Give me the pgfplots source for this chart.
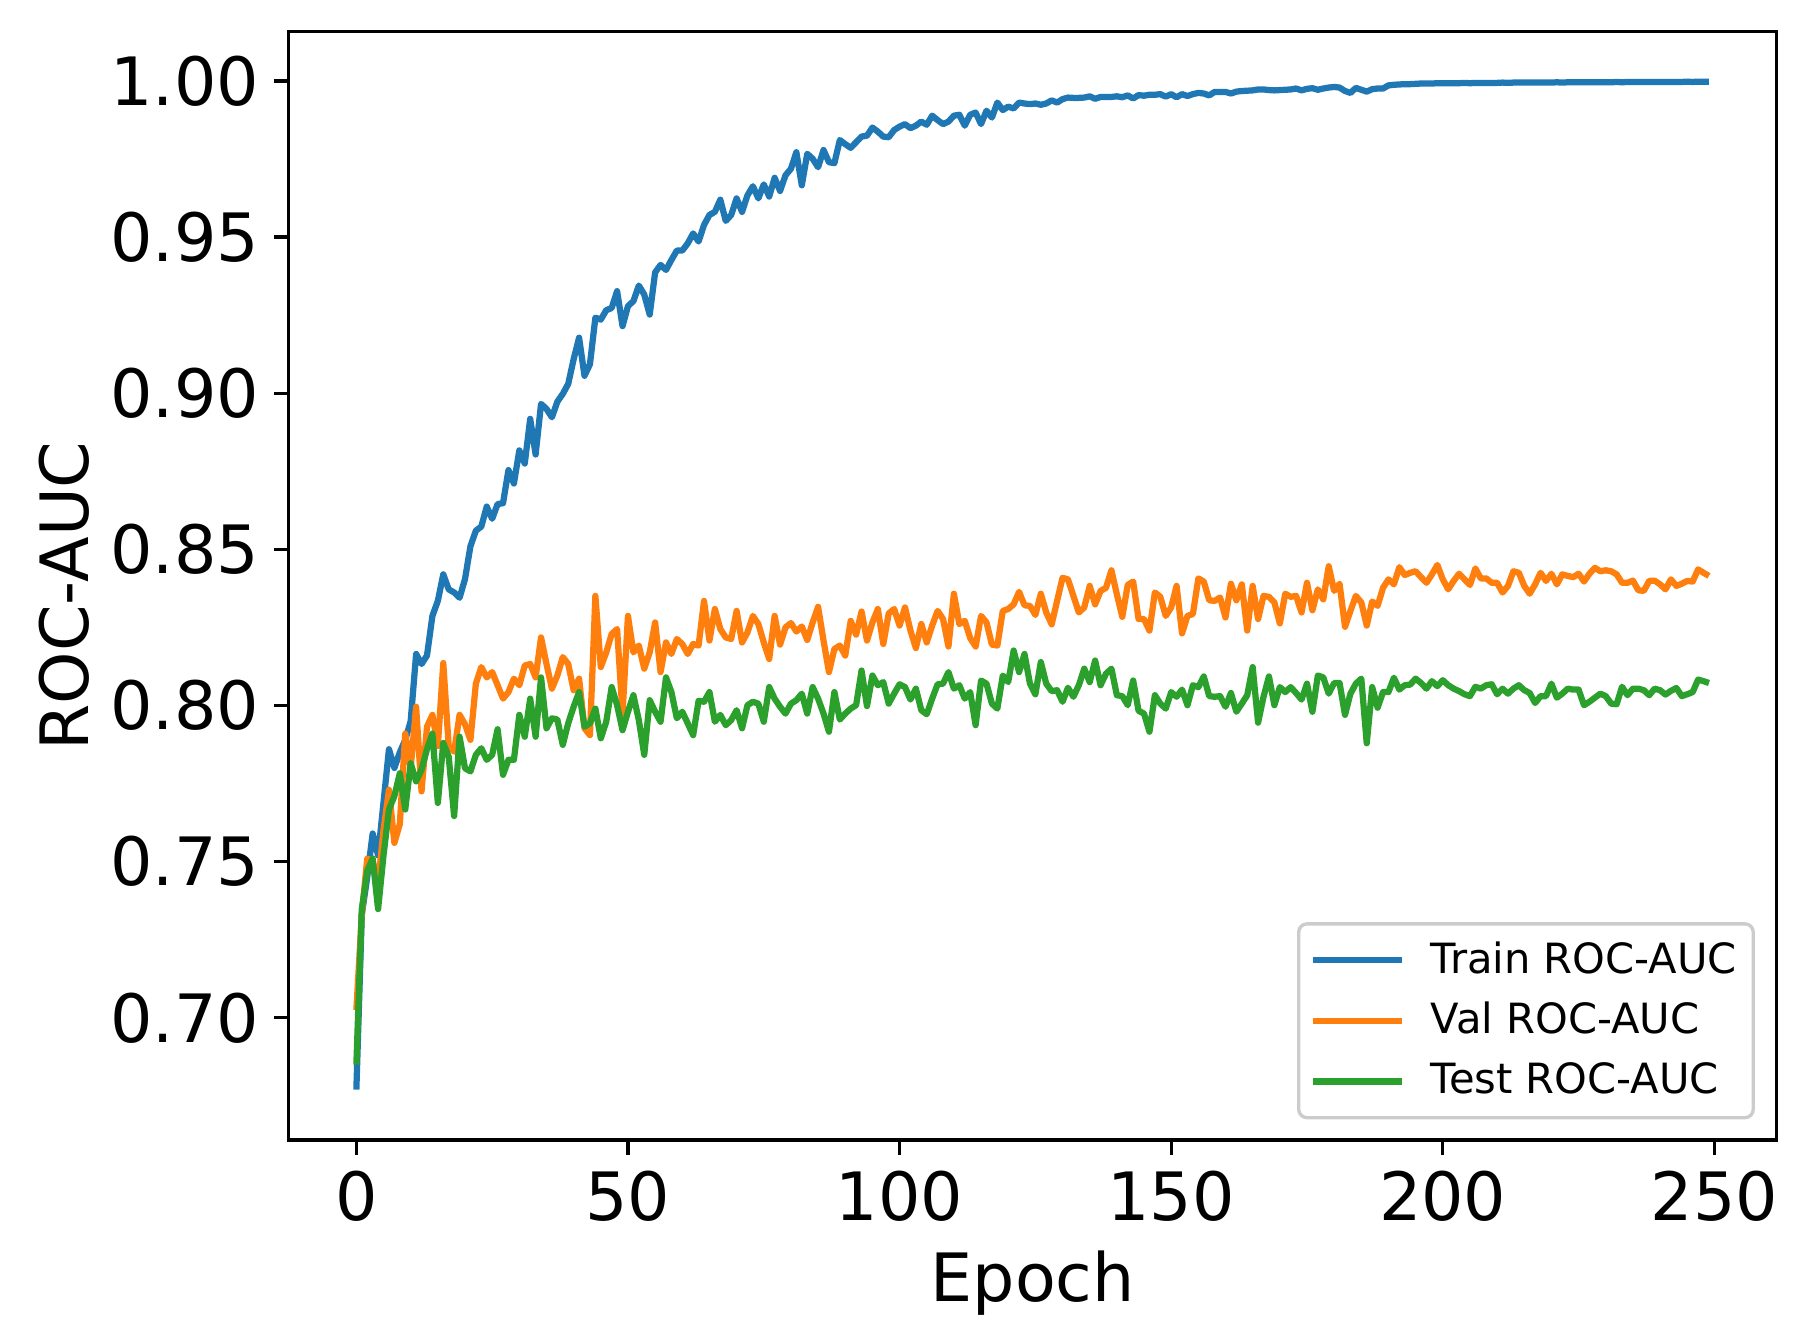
\documentclass[border=0pt]{standalone}
\usepackage{fontspec}
\setmainfont{DejaVu Sans}
\usepackage{pgfplots}
\usepackage{pgfplotstable}
\pgfplotsset{compat=1.18}
\definecolor{tabblue}{HTML}{1F77B4}
\definecolor{taborange}{HTML}{FF7F0E}
\definecolor{tabgreen}{HTML}{2CA02C}
\pgfplotstableread{
epoch train val test
0 0.677 0.7025 0.685
1 0.733 0.733 0.7348
2 0.745 0.751 0.747
3 0.759 0.750 0.751
4 0.752 0.743 0.7348
5 0.769 0.760 0.752
6 0.786 0.773 0.7667
7 0.780 0.756 0.771
8 0.785 0.762 0.7783
9 0.789 0.791 0.7667
10 0.795 0.780 0.7815
11 0.8165 0.7996 0.7757
12 0.8133 0.7725 0.7794
13 0.8160 0.7932 0.786
14 0.8287 0.797 0.791
15 0.8335 0.787 0.7688
16 0.8420 0.8136 0.788
17 0.8372 0.787 0.7836
18 0.8362 0.7852 0.7646
19 0.8345 0.797 0.790
20 0.8405 0.794 0.7799
21 0.8510 0.789 0.7789
22 0.8560 0.8070 0.7842
23 0.8573 0.8123 0.7863
24 0.8637 0.809 0.7826
25 0.8598 0.8107 0.7842
26 0.8645 0.8065 0.7924
27 0.8648 0.8022 0.7778
28 0.8754 0.8043 0.7826
29 0.8711 0.8086 0.7826
30 0.8817 0.8065 0.797
31 0.8775 0.8128 0.790
32 0.8918 0.8133 0.8022
33 0.8804 0.809 0.790
34 0.8966 0.8218 0.809
35 0.8950 0.8133 0.7927
36 0.8923 0.8054 0.7959
37 0.8973 0.8096 0.7955
38 0.8998 0.8155 0.7874
39 0.9030 0.8133 0.7943
40 0.9109 0.8049 0.7996
41 0.9178 0.8086 0.8043
42 0.9056 0.7927 0.7932
43 0.9093 0.7905 0.7943
44 0.9242 0.8351 0.799
45 0.9236 0.8123 0.7895
46 0.9266 0.8170 0.7948
47 0.9273 0.8229 0.8059
48 0.9327 0.8245 0.8001
49 0.9215 0.7974 0.7921
50 0.9279 0.8287 0.798
51 0.9295 0.8170 0.8033
52 0.9345 0.8192 0.7953
53 0.9316 0.8118 0.7842
54 0.9252 0.8170 0.8017
55 0.9387 0.8266 0.798
56 0.9411 0.8107 0.7948
57 0.9395 0.8202 0.809
58 0.9427 0.8165 0.8043
59 0.9457 0.8213 0.7959
60 0.9457 0.8197 0.798
61 0.9480 0.8165 0.7943
62 0.9512 0.8197 0.7905
63 0.9486 0.8192 0.8015
64 0.9539 0.8335 0.8012
65 0.9571 0.8208 0.8043
66 0.9581 0.8309 0.7948
67 0.9620 0.8245 0.7970
68 0.9552 0.8218 0.7937
69 0.9571 0.8213 0.7953
70 0.9624 0.8303 0.7985
71 0.9581 0.8202 0.7927
72 0.9634 0.8234 0.8001
73 0.9663 0.8287 0.8012
74 0.9624 0.8261 0.8006
75 0.9669 0.8202 0.7948
76 0.9630 0.8149 0.8059
77 0.9690 0.8287 0.8022
78 0.9648 0.8195 0.7996
79 0.9698 0.8250 0.7974
80 0.9719 0.8264 0.8006
81 0.9772 0.8237 0.8017
82 0.9666 0.8253 0.8038
83 0.9767 0.8210 0.7974
84 0.9751 0.8266 0.8059
85 0.9724 0.8316 0.8022
86 0.9779 0.8208 0.7974
87 0.9740 0.8107 0.7916
88 0.9737 0.8181 0.8043
89 0.9811 0.8192 0.7955
90 0.9798 0.8160 0.7974
91 0.9786 0.8271 0.7990
92 0.9804 0.8227 0.8001
93 0.9822 0.8301 0.8112
94 0.9825 0.8208 0.7998
95 0.9851 0.8266 0.8096
96 0.9838 0.8309 0.8065
97 0.9822 0.8197 0.8075
98 0.9820 0.8295 0.8006
99 0.9843 0.8309 0.8038
100 0.9854 0.8256 0.8068
101 0.9862 0.8314 0.8059
102 0.9849 0.8240 0.8019
103 0.9857 0.8184 0.8054
104 0.9870 0.8261 0.7985
105 0.9860 0.8202 0.7972
106 0.9889 0.8256 0.8022
107 0.9875 0.8303 0.8068
108 0.9862 0.8277 0.8070
109 0.9870 0.8189 0.8107
110 0.9889 0.8358 0.8054
111 0.9892 0.8261 0.8065
112 0.9857 0.8271 0.8022
113 0.9892 0.8216 0.8043
114 0.9899 0.8189 0.7937
115 0.9862 0.8287 0.8080
116 0.9905 0.8266 0.8070
117 0.9883 0.8195 0.8006
118 0.9931 0.8192 0.7990
119 0.9907 0.8303 0.8096
120 0.9918 0.8309 0.8075
121 0.9912 0.8324 0.8176
122 0.9931 0.8364 0.8107
123 0.9928 0.8321 0.8165
124 0.9926 0.8319 0.8070
125 0.9928 0.8290 0.8036
126 0.9924 0.8358 0.8139
127 0.9928 0.8298 0.8070
128 0.9938 0.8260 0.8046
129 0.9931 0.8335 0.8049
130 0.9942 0.8409 0.8012
131 0.9947 0.8404 0.8057
132 0.9946 0.8351 0.8028
133 0.9946 0.8298 0.8065
134 0.9947 0.8314 0.8118
135 0.9951 0.8383 0.8075
136 0.9943 0.8324 0.8144
137 0.9949 0.8367 0.8065
138 0.9949 0.8377 0.8102
139 0.9949 0.8433 0.8118
140 0.9951 0.8356 0.8033
141 0.9948 0.8284 0.8030
142 0.9954 0.8386 0.8001
143 0.9944 0.8397 0.8080
144 0.9955 0.8277 0.7983
145 0.9953 0.8277 0.7974
146 0.9956 0.8240 0.7916
147 0.9956 0.8362 0.8033
148 0.9958 0.8348 0.8006
149 0.9950 0.8287 0.7990
150 0.9958 0.8314 0.8043
151 0.9948 0.8383 0.8028
152 0.9958 0.8231 0.8051
153 0.9952 0.8287 0.8001
154 0.9958 0.8293 0.8065
155 0.9962 0.8407 0.8059
156 0.9960 0.8397 0.8093
157 0.9954 0.8337 0.8030
158 0.9965 0.8335 0.8028
159 0.9965 0.8346 0.8030
160 0.9965 0.8282 0.7996
161 0.9960 0.8390 0.8040
162 0.9966 0.8337 0.7980
163 0.9968 0.8388 0.8006
164 0.9969 0.8240 0.8033
165 0.9970 0.8383 0.8123
166 0.9973 0.8277 0.7945
167 0.9973 0.8351 0.8028
168 0.9971 0.8348 0.8093
169 0.9970 0.8330 0.8001
170 0.9971 0.8263 0.8059
171 0.9972 0.8358 0.8043
172 0.9973 0.8348 0.8059
173 0.9976 0.8351 0.8040
174 0.9970 0.8298 0.8019
175 0.9975 0.8393 0.8070
176 0.9977 0.8305 0.7980
177 0.9972 0.8372 0.8096
178 0.9976 0.8340 0.8090
179 0.9979 0.8446 0.8038
180 0.9981 0.8367 0.8072
181 0.9979 0.8390 0.8072
182 0.9968 0.8252 0.7970
183 0.9962 0.8303 0.8038
184 0.9978 0.8351 0.8070
185 0.9972 0.8330 0.8086
186 0.9966 0.8256 0.7879
187 0.9974 0.8333 0.8059
188 0.9976 0.8319 0.7993
189 0.9976 0.8377 0.8043
190 0.9986 0.8404 0.8043
191 0.9988 0.8388 0.8089
192 0.9989 0.8443 0.8051
193 0.9990 0.8418 0.8065
194 0.9990 0.8425 0.8067
195 0.9991 0.8430 0.8086
196 0.9992 0.8411 0.8072
197 0.9992 0.8393 0.8054
198 0.9992 0.8420 0.8078
199 0.9993 0.8450 0.8062
200 0.9993 0.8404 0.8081
201 0.9993 0.8372 0.8065
202 0.9993 0.8399 0.8054
203 0.9993 0.8422 0.8046
204 0.9994 0.8404 0.8036
205 0.9993 0.8386 0.8030
206 0.9994 0.8439 0.8060
207 0.9994 0.8407 0.8054
208 0.9994 0.8407 0.8065
209 0.9994 0.8393 0.8068
210 0.9994 0.8393 0.8036
211 0.9995 0.8362 0.8054
212 0.9994 0.8383 0.8038
213 0.9995 0.8430 0.8054
214 0.9995 0.8425 0.8065
215 0.9995 0.8383 0.8049
216 0.9995 0.8358 0.8040
217 0.9995 0.8388 0.8008
218 0.9995 0.8425 0.8030
219 0.9995 0.8399 0.8030
220 0.9995 0.8422 0.8070
221 0.9996 0.8388 0.8025
222 0.9995 0.8420 0.8038
223 0.9996 0.8415 0.8054
224 0.9996 0.8411 0.8051
225 0.9996 0.8422 0.8051
226 0.9996 0.8397 0.8001
227 0.9996 0.8422 0.8012
228 0.9996 0.8441 0.8025
229 0.9996 0.8430 0.8038
230 0.9996 0.8433 0.8030
231 0.9996 0.8430 0.8006
232 0.9997 0.8420 0.8004
233 0.9996 0.8393 0.8060
234 0.9997 0.8393 0.8033
235 0.9997 0.8400 0.8054
236 0.9997 0.8369 0.8054
237 0.9997 0.8367 0.8049
238 0.9997 0.8399 0.8033
239 0.9997 0.8400 0.8054
240 0.9997 0.8388 0.8049
241 0.9997 0.8372 0.8035
242 0.9997 0.8404 0.8047
243 0.9997 0.8383 0.8056
244 0.9997 0.8390 0.8030
245 0.9998 0.8399 0.8036
246 0.9997 0.8397 0.8043
247 0.9998 0.8436 0.8083
248 0.9998 0.8425 0.8078
249 0.9998 0.8415 0.8072
}\datatable

\begin{document}
\begin{tikzpicture}
\begin{axis}[
  scale only axis,
  width=357.1pt, height=266.1pt,
  xmin=-12.45, xmax=261.45,
  ymin=0.66086, ymax=1.01594,
  axis line style={line width=0.8pt},
  tick pos=left, tick align=outside,
  major tick length=3.5pt,
  every tick/.style={black, line width=0.8pt},
  xtick={0,50,100,150,200,250},
  ytick={0.70,0.75,0.80,0.85,0.90,0.95,1.00},
  scaled y ticks=false,
  /pgf/number format/assume math mode=true,
  y tick label style={/pgf/number format/fixed, /pgf/number format/fixed zerofill, /pgf/number format/precision=2},
  tick label style={font=\fontsize{16}{19.2}\selectfont},
  xticklabel style={inner sep=0pt, anchor=north, yshift=-3.7pt},
  yticklabel style={inner sep=0pt, anchor=east, xshift=-3.45pt},
  xlabel={Epoch}, ylabel={ROC-AUC},
  label style={font=\fontsize{16}{19.2}\selectfont},
  xlabel style={at={(axis description cs:0.5,-0.0992)}, anchor=north, inner sep=0pt},
  ylabel style={at={(axis description cs:-0.1335,0.4906)}, anchor=south, inner sep=0pt},
  legend cell align=left,
  legend image code/.code={\path[draw=none, fill=none] (-2.5pt,0pt) rectangle (25.3pt,0pt); \draw[#1] (0pt,0pt) -- (21.4pt,0pt);},
  legend style={at={(1,0)}, anchor=south east, xshift=-5.2pt, yshift=4.95pt,
    draw=black!20, line width=0.8pt, rounded corners=2pt, fill=white,
    font=\fontsize{10}{12}\selectfont, inner xsep=1pt, inner ysep=1.45pt,
    nodes={inner xsep=2.9pt, inner ysep=2.75pt}},
]
\addplot[tabblue, line width=1.5pt, line join=round, mark=none] table[x=epoch, y=train]{\datatable};
\addlegendentry{Train ROC-AUC}
\addplot[taborange, line width=1.5pt, line join=round, mark=none] table[x=epoch, y=val]{\datatable};
\addlegendentry{Val ROC-AUC}
\addplot[tabgreen, line width=1.5pt, line join=round, mark=none] table[x=epoch, y=test]{\datatable};
\addlegendentry{Test ROC-AUC}
\end{axis}
\pgfresetboundingbox
\path[use as bounding box] ([shift={(-69.3pt,-48.5pt)}]current axis.south west) rectangle ([shift={(364.4pt,273.6pt)}]current axis.south west);
\end{tikzpicture}
\end{document}
